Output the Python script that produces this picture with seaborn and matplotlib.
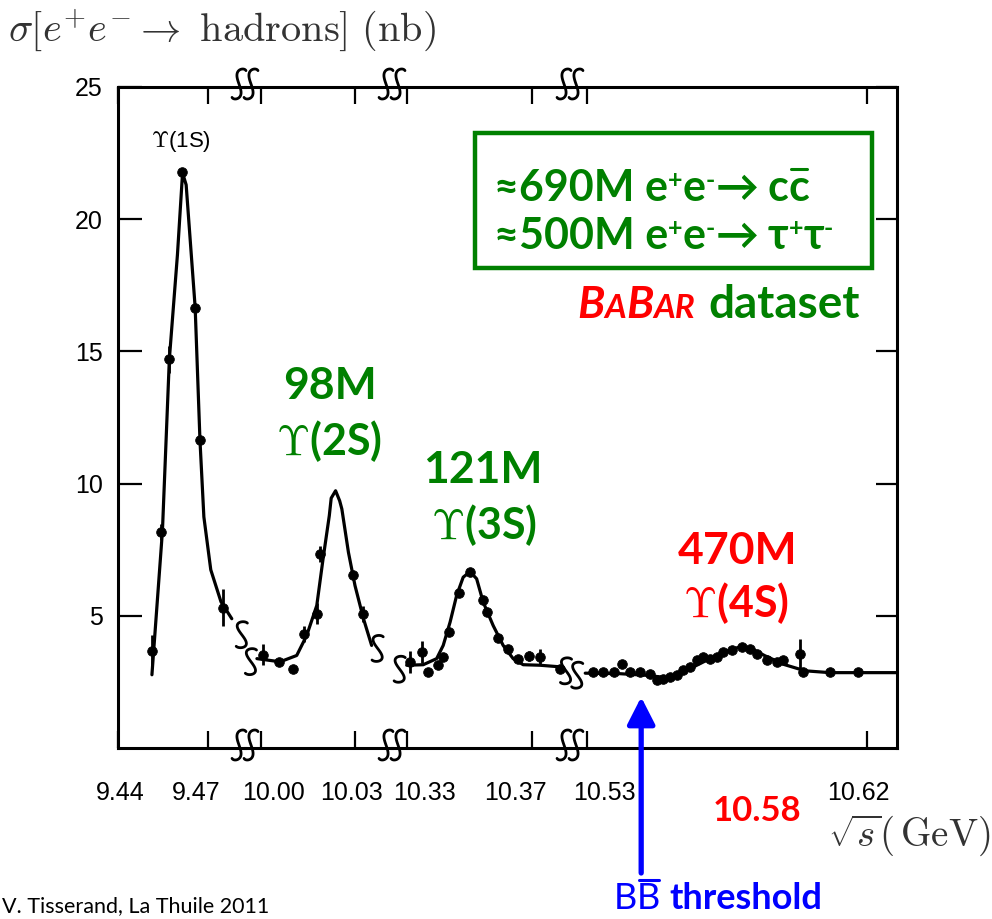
import numpy as np
import matplotlib
matplotlib.use("Agg")
import matplotlib.pyplot as plt
import seaborn as sns
from matplotlib.lines import Line2D
from matplotlib.patches import Rectangle
from matplotlib.transforms import IdentityTransform

# ---------------------------------------------------------------------------
# Measured e+e- -> hadrons cross sections (nb) versus sqrt(s) (GeV)
# ---------------------------------------------------------------------------
e_1s   = [9.4513, 9.4543, 9.4571, 9.4613, 9.4656, 9.4674, 9.4750]
sig_1s = [3.68, 8.17, 14.70, 21.79, 16.66, 11.64, 5.30]
err_1s = [0.60, 0.30, 0.50, 0.0, 0.0, 0.0, 0.70]

e_2s   = [10.0005, 10.0058, 10.0101, 10.0137, 10.0178, 10.0188, 10.0293, 10.0325]
sig_2s = [3.53, 3.25, 3.00, 4.30, 5.08, 7.34, 6.55, 5.08]
err_2s = [0.40, 0.0, 0.0, 0.30, 0.40, 0.30, 0.0, 0.30]

e_3s   = [10.3310, 10.3347, 10.3368, 10.3400, 10.3414, 10.3435, 10.3466, 10.3502,
          10.3542, 10.3557, 10.3592, 10.3622, 10.3656, 10.3691, 10.3726, 10.3790]
sig_3s = [3.25, 3.63, 2.88, 3.15, 3.44, 4.38, 5.86, 6.65,
          5.60, 5.16, 4.16, 3.75, 3.38, 3.48, 3.44, 2.97]
err_3s = [0.40, 0.40, 0.0, 0.0, 0.0, 0.0, 0.0, 0.0,
          0.0, 0.0, 0.0, 0.0, 0.0, 0.20, 0.30, 0.0]

e_4s   = [10.5320, 10.5352, 10.5385, 10.5412, 10.5438, 10.5470, 10.5503, 10.5524,
          10.5545, 10.5567, 10.5588, 10.5610, 10.5631, 10.5653, 10.5674, 10.5695,
          10.5717, 10.5738, 10.5765, 10.5797, 10.5824, 10.5845, 10.5878, 10.5910,
          10.5931, 10.5985, 10.5995, 10.6081, 10.6172]
sig_4s = [2.87, 2.87, 2.87, 3.19, 2.87, 2.87, 2.81, 2.56,
          2.62, 2.69, 2.75, 2.94, 3.07, 3.31, 3.44, 3.38,
          3.44, 3.63, 3.69, 3.82, 3.75, 3.57, 3.31, 3.25,
          3.31, 3.57, 2.87, 2.87, 2.87]
err_4s = [0.0] * 25 + [0.55, 0.0, 0.0, 0.0]

# Fitted line shapes
fit_e_1s = [9.4513, 9.4548, 9.4571, 9.4598, 9.4615, 9.4627, 9.4657, 9.4673,
            9.4686, 9.4709, 9.4743, 9.4779]
fit_1s   = [2.77, 8.21, 14.70, 18.66, 21.75, 21.30, 16.66, 11.64,
            8.74, 6.74, 5.53, 4.89]

fit_e_2s = [9.9987, 10.0061, 10.0114, 10.0146, 10.0178, 10.0198, 10.0218, 10.0224,
            10.0238, 10.0251, 10.0258, 10.0279, 10.0300, 10.0327, 10.0353]
fit_2s   = [3.38, 3.26, 3.50, 4.26, 5.39, 7.15, 8.79, 9.45,
            9.73, 9.35, 9.04, 7.40, 6.14, 4.89, 3.88]

fit_e_3s = [10.3299, 10.3352, 10.3395, 10.3416, 10.3438, 10.3459, 10.3480, 10.3502,
            10.3523, 10.3544, 10.3576, 10.3608, 10.3640, 10.3672, 10.3726, 10.3790]
fit_3s   = [3.13, 3.15, 3.38, 3.88, 4.76, 5.77, 6.46, 6.67,
            6.40, 5.52, 4.63, 3.88, 3.38, 3.15, 3.13, 3.07]

fit_e_4s = [10.5294, 10.5406, 10.5503, 10.5551, 10.5599, 10.5663, 10.5728, 10.5792,
            10.5824, 10.5872, 10.5936, 10.6001, 10.6081, 10.6293]
fit_4s   = [2.83, 2.81, 2.74, 2.66, 2.81, 3.19, 3.57, 3.83,
            3.79, 3.49, 3.15, 2.92, 2.85, 2.85]

# Broken energy axis: four windows, one per resonance
seg_limits = [(9.4400, 9.4823), (9.9949, 10.0418), (10.3252, 10.3822), (10.5245, 10.6297)]
seg_ticks  = [[9.44, 9.47], [10.00, 10.03], [10.33, 10.37], [10.53, 10.62]]
seg_labels = [["9.44", "9.47"], ["10.00", "10.03"], ["10.33", "10.37"], ["10.53", "10.62"]]
y_ticks    = [5, 10, 15, 20, 25]

peak_names  = ["2S", "3S", "4S"]
peak_counts = ["98M", "121M", "470M"]
bb_threshold = 10.5474

GREEN = "#008000"
RED = "#ff0000"
BLUE = "#0000ff"

# ---------------------------------------------------------------------------
sns.set_theme(style="ticks", rc={
    "axes.linewidth": 2.2,
    "axes.edgecolor": "black",
    "xtick.color": "black",
    "ytick.color": "black",
})
plt.rcParams["font.family"] = ["Liberation Sans", "DejaVu Sans"]
plt.rcParams["mathtext.fontset"] = "cm"

W, H = 992, 919
fig = plt.figure(figsize=(W / 100, H / 100), dpi=100)
fig.patch.set_facecolor("white")

# frame in pixels: edges of the four windows, top and bottom
x_edges = [118, 245, 392, 570, 897]
y_top, y_bot = 87, 748
# horizontal nudges (px) of the energy labels so neighbours do not collide
label_shift = [[2, -12], [13, -4], [18, -16], [17, -8]]

axes = []
for i in range(4):
    ax = fig.add_axes([x_edges[i] / W, 1 - y_bot / H,
                       (x_edges[i + 1] - x_edges[i]) / W, (y_bot - y_top) / H])
    ax.set_facecolor("none")
    ax.set_xlim(*seg_limits[i])
    ax.set_ylim(0, 25)
    axes.append(ax)

series = [
    (e_1s, sig_1s, err_1s, fit_e_1s, fit_1s),
    (e_2s, sig_2s, err_2s, fit_e_2s, fit_2s),
    (e_3s, sig_3s, err_3s, fit_e_3s, fit_3s),
    (e_4s, sig_4s, err_4s, fit_e_4s, fit_4s),
]

for i, (ax, (e, s, err, fe, fs)) in enumerate(zip(axes, series)):
    sns.lineplot(x=fe, y=fs, ax=ax, color="black", lw=2.3, sort=False,
                 estimator=None, legend=False)
    ax.lines[-1].set_solid_joinstyle("round")
    ax.lines[-1].set_clip_on(False)
    e_arr, s_arr, err_arr = np.array(e), np.array(s), np.array(err)
    m = err_arr > 0
    ax.errorbar(e_arr[m], s_arr[m], yerr=err_arr[m], fmt="none",
                ecolor="black", elinewidth=2.0, capsize=0, zorder=3)
    sns.scatterplot(x=e, y=s, ax=ax, color="black", s=48, edgecolor="black",
                    linewidth=0.6, zorder=4, legend=False)
    ax.set_xlabel("")
    ax.set_ylabel("")

    ax.set_xticks(seg_ticks[i])
    ax.tick_params(axis="x", direction="in", length=12, width=1.6,
                   top=True, bottom=True, labelbottom=False)
    for tick, lab, dx in zip(seg_ticks[i], seg_labels[i], label_shift[i]):
        ax.annotate(lab, xy=(tick, 0), xycoords=("data", "axes fraction"),
                    xytext=(dx, -52), textcoords="offset pixels",
                    ha="center", va="baseline", fontsize=18, color="black",
                    annotation_clip=False)
    ax.spines["top"].set_visible(True)
    ax.spines["bottom"].set_visible(True)
    ax.spines["left"].set_visible(i == 0)
    ax.spines["right"].set_visible(i == 3)
    if i == 0:
        ax.set_yticks(y_ticks)
        ax.set_yticklabels([str(v) for v in y_ticks])
        ax.tick_params(axis="y", direction="in", length=17, width=1.6,
                       left=True, right=False, labelsize=18, pad=11)
    elif i == 3:
        ax.set_yticks(y_ticks)
        ax.tick_params(axis="y", direction="in", length=15, width=1.6,
                       left=False, right=True, labelleft=False)
    else:
        ax.set_yticks([])

fig.canvas.draw()
renderer = fig.canvas.get_renderer()


def s_shape(cx, cy, w, h, slant=0.0, n=50):
    t = np.linspace(-0.15, 1.15, n)
    y = 0.5 * h * np.cos(np.pi * t)
    x = -0.5 * w * np.sin(2 * np.pi * t) + slant * y
    return cx + x, cy + y


def draw_s(cx, cy, w, h, slant=0.0, lw=2.0):
    xs, ys = s_shape(cx, cy, w, h, slant)
    fig.add_artist(Line2D(xs, ys, color="black", lw=lw, transform=IdentityTransform(),
                          solid_capstyle="round", zorder=5))


# break marks on the top and bottom frame lines
for ax in axes[:-1]:
    bx, by0 = ax.transAxes.transform((1, 0))
    _, by1 = ax.transAxes.transform((1, 1))
    for yy in (by0, by1):
        for dx in (-6, 6):
            draw_s(bx + dx, yy + 3, 9, 30, slant=0.25)

# break marks at the ends of the fitted curves
curve_ends = [(0, fit_e_1s[-1], fit_1s[-1], 10, -16),
              (1, fit_e_2s[0], fit_2s[0], -6, -3),
              (1, fit_e_2s[-1], fit_2s[-1], 6, -3),
              (2, fit_e_3s[0], fit_3s[0], -7, -4),
              (2, fit_e_3s[-1], fit_3s[-1], 6, -4),
              (3, fit_e_4s[0], fit_4s[0], -8, -2)]
for k, ex, ey, dx, dy in curve_ends:
    px, py = axes[k].transData.transform((ex, ey))
    draw_s(px + dx, py + dy, 11, 26, slant=0.1, lw=2.0)


def fxy(px, py):
    return px / W, 1 - py / H


def rich(x_px, y_px, pieces, base):
    """Write text pieces one after another on a common baseline (pixel coords)."""
    x = x_px
    for p in pieces:
        kw = dict(base)
        kw.update(p.get("kw", {}))
        x += p.get("gap", 0)
        t = fig.text(*fxy(x, y_px - p.get("dy", 0)), p["s"], ha="left", va="baseline", **kw)
        bb = t.get_window_extent(renderer)
        if p.get("bar"):
            size_px = kw["fontsize"] * 100 / 72
            ybar = (H - y_px) + p["bar"] * size_px
            fig.add_artist(Line2D([bb.x0 + 2, bb.x1 - 2], [ybar, ybar], color=kw["color"],
                                  lw=2.2, transform=IdentityTransform()))
        x += bb.width
    return x


# axis titles (LaTeX style)
fig.text(*fxy(8, 42), r"$\sigma[e^{+}e^{-} \rightarrow\ \mathrm{hadrons}]\ (\mathrm{nb})$",
         fontsize=29, color="#333333", ha="left", va="baseline", math_fontfamily="cm")
fig.text(*fxy(990, 846), r"$\sqrt{s}(\,\mathrm{GeV})$",
         fontsize=28, color="#333333", ha="right", va="baseline", math_fontfamily="cm")

# resonance label of the original figure
fig.text(*fxy(181, 141), r"$\Upsilon$(1S)", fontsize=16, color="black", ha="center",
         va="center", family="Liberation Sans", math_fontfamily="cm")

# event counts per resonance
label_font = ["Lato", "DejaVu Sans"]
label_pos = [(330, 386, 329, 441, GREEN), (483, 470, 484, 525, GREEN), (738, 551, 736, 603, RED)]
for name, count, (cx, cy, ux, uy, col) in zip(peak_names, peak_counts, label_pos):
    fig.text(*fxy(cx, cy), count, fontsize=32, weight="bold", color=col,
             ha="center", va="center", family=label_font)
    fig.text(*fxy(ux, uy), r"$\Upsilon$(" + name + ")", fontsize=31, weight="bold",
             color=col, ha="center", va="center", family="Lato", math_fontfamily="cm")

# green box with continuum samples
fig.add_artist(Rectangle(fxy(475, 268), (872 - 475) / W, (268 - 133) / H,
                         transform=fig.transFigure, fill=False, ec=GREEN, lw=3.2, zorder=6))
box_base = dict(fontsize=31, weight="bold", color=GREEN, family=label_font)
sup = dict(fontsize=18)
rich(494, 201, [
    dict(s="≈690M e"), dict(s="+", kw=sup, dy=13), dict(s="e"),
    dict(s="-", kw=sup, dy=13), dict(s="→", gap=1), dict(s="c", gap=9),
    dict(s="c", bar=0.74),
], box_base)
rich(494, 249, [
    dict(s="≈500M e"), dict(s="+", kw=sup, dy=13), dict(s="e"),
    dict(s="-", kw=sup, dy=13), dict(s="→", gap=1), dict(s="τ", gap=9),
    dict(s="+", kw=sup, dy=13), dict(s="τ"), dict(s="-", kw=sup, dy=13),
], box_base)

# BaBar dataset line
bab = dict(weight="bold", style="italic", color=RED, family=label_font)
rich(577, 318, [
    dict(s="B", kw=dict(fontsize=32)), dict(s="A", kw=dict(fontsize=24)),
    dict(s="B", kw=dict(fontsize=32)), dict(s="AR", kw=dict(fontsize=24)),
    dict(s="dataset", gap=13, kw=dict(fontsize=33, style="normal", color=GREEN)),
], bab)

# red Upsilon(4S) energy
fig.text(*fxy(757, 811), "10.58", fontsize=25, weight="bold", color=RED,
         ha="center", va="center", family=label_font)

# B Bbar threshold arrow
axes[3].annotate("", xy=(bb_threshold, H - 697), xycoords=("data", "figure pixels"),
                 xytext=(bb_threshold, H - 873), textcoords=("data", "figure pixels"),
                 arrowprops=dict(arrowstyle="-|>,head_length=0.55,head_width=0.28",
                                 mutation_scale=30, lw=3.8, color=BLUE,
                                 shrinkA=0, shrinkB=0),
                 annotation_clip=False)
rich(614, 909, [
    dict(s="B", kw=dict(weight="normal")), dict(s="B", kw=dict(weight="normal"), bar=0.80),
    dict(s="threshold", gap=9),
], dict(fontsize=26, weight="bold", color=BLUE, family=label_font))

# credit line
fig.text(*fxy(2, 912), "V. Tisserand, La Thuile 2011", fontsize=15.5, color="black",
         ha="left", va="baseline", family=["Lato", "DejaVu Sans"])

fig.savefig("out.png", dpi=100, facecolor="white")
